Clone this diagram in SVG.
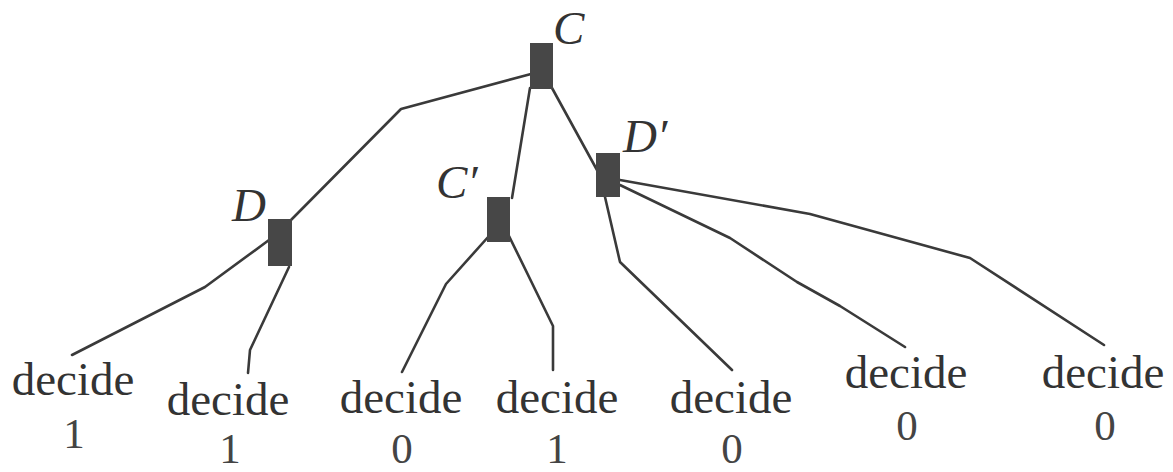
<svg xmlns="http://www.w3.org/2000/svg" width="1173" height="472" viewBox="0 0 1173 472">
<style>
.edge{fill:none;stroke:#3a3a3a;stroke-width:2.6;stroke-linejoin:round;stroke-linecap:round}
.box{fill:#474747}
.lbl{font-family:"Liberation Serif",serif;font-style:italic;font-size:47px;fill:#333}
.dec{font-family:"Liberation Serif",serif;font-size:47px;fill:#333;text-anchor:middle}
.val{font-family:"Liberation Serif",serif;font-size:43px;fill:#444;text-anchor:middle}
</style>
<rect width="1173" height="472" fill="#fff"/>
<g id="connectors">
<polyline class="edge" points="531,74 401,109 290,221"/>
<polyline class="edge" points="530,88 512,198"/>
<polyline class="edge" points="552,88 597,170"/>
<polyline class="edge" points="269,240 205,287 72,355"/>
<polyline class="edge" points="289,267 250,350 248,373"/>
<polyline class="edge" points="489,236 446,284 402,372"/>
<polyline class="edge" points="509,236 553,326 553,370"/>
<polyline class="edge" points="605,197 620,262 732,370"/>
<polyline class="edge" points="620,185 730,238 797,282 840,306 905,347"/>
<polyline class="edge" points="620,180 810,214 970,258 1104,345"/>
</g>
<g id="node-C"><rect class="box" x="530" y="43" width="23" height="46"/><text class="lbl" x="553" y="44">C</text></g>
<g id="node-D"><rect class="box" x="268" y="219" width="24" height="47"/><text class="lbl" x="232" y="221">D</text></g>
<g id="node-Cp"><rect class="box" x="487" y="197" width="23" height="45"/><text class="lbl" x="436" y="198">C′</text></g>
<g id="node-Dp"><rect class="box" x="596" y="153" width="24" height="44"/><text class="lbl" x="623" y="152">D′</text></g>
<g id="leaf1"><text class="dec" x="73" y="395">decide</text><text class="val" x="74" y="448">1</text></g>
<g id="leaf2"><text class="dec" x="228" y="415">decide</text><text class="val" x="230" y="463">1</text></g>
<g id="leaf3"><text class="dec" x="401" y="413">decide</text><text class="val" x="402" y="463">0</text></g>
<g id="leaf4"><text class="dec" x="557" y="413">decide</text><text class="val" x="557" y="463">1</text></g>
<g id="leaf5"><text class="dec" x="731" y="413">decide</text><text class="val" x="732" y="463">0</text></g>
<g id="leaf6"><text class="dec" x="906" y="388">decide</text><text class="val" x="907" y="440">0</text></g>
<g id="leaf7"><text class="dec" x="1103" y="388">decide</text><text class="val" x="1105" y="440">0</text></g>
</svg>
